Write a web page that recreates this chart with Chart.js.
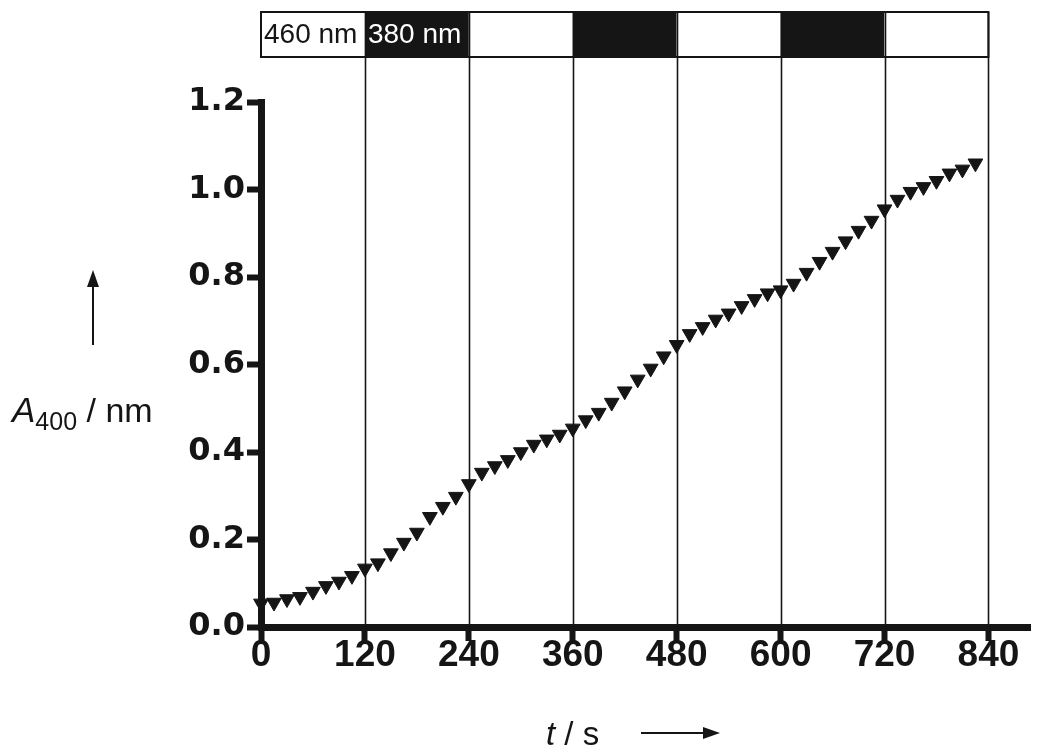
<!DOCTYPE html>
<html>
<head>
<meta charset="utf-8">
<script src="https://cdn.jsdelivr.net/npm/chart.js@4.4.1/dist/chart.umd.min.js"></script>
<style>
  body { margin: 0; background: #fff; }
</style>
</head>
<body>
<canvas id="myChart" width="1050" height="756"></canvas>
<script>
// time points (s)
let times = [0, 15, 30, 45, 60, 75, 90, 105, 120, 135, 150, 165, 180, 195, 210, 225,
  240, 255, 270, 285, 300, 315, 330, 345, 360, 375, 390, 405, 420, 435, 450, 465,
  480, 495, 510, 525, 540, 555, 570, 585, 600, 615, 630, 645, 660, 675, 690, 705,
  720, 735, 750, 765, 780, 795, 810, 825];

// absorbance at 400 nm
let a400 = [0.054, 0.056, 0.064, 0.069, 0.081, 0.094, 0.104, 0.117, 0.134, 0.146, 0.169, 0.193, 0.216, 0.252, 0.275, 0.298,
  0.327, 0.353, 0.368, 0.382, 0.400, 0.417, 0.429, 0.440, 0.454, 0.473, 0.490, 0.513, 0.539, 0.566, 0.591, 0.619,
  0.645, 0.670, 0.686, 0.703, 0.717, 0.734, 0.750, 0.763, 0.770, 0.785, 0.810, 0.835, 0.858, 0.882, 0.906, 0.929,
  0.955, 0.977, 0.995, 1.006, 1.020, 1.037, 1.046, 1.060];

// irradiation periods shown in the strip above the plot
let bandEdges = [0, 120, 240, 360, 480, 600, 720, 840];
let bandLabels = ["460 nm", "380 nm", "", "", "", "", ""];
let bandDark = [false, true, false, true, false, true, false];

let xTicks = [0, 120, 240, 360, 480, 600, 720, 840];
let yTicks = [0, 0.2, 0.4, 0.6, 0.8, 1.0, 1.2];

let ink = "#151515";

let overlay = {
  id: "overlay",
  beforeDatasetsDraw(chart) {
    let ctx = chart.ctx;
    let area = chart.chartArea;
    let x = chart.scales.x;
    let barTop = 12;
    let barH = 45;
    ctx.save();
    // strip
    for (let i = 0; i < bandEdges.length - 1; i++) {
      let x0 = x.getPixelForValue(bandEdges[i]);
      let x1 = x.getPixelForValue(bandEdges[i + 1]);
      ctx.fillStyle = bandDark[i] ? ink : "#fff";
      ctx.fillRect(x0, barTop, x1 - x0, barH);
      if (bandLabels[i]) {
        ctx.fillStyle = bandDark[i] ? "#fff" : ink;
        ctx.font = "28px 'Liberation Sans', Arial, sans-serif";
        ctx.textBaseline = "middle";
        ctx.textAlign = "left";
        ctx.fillText(bandLabels[i], x0 + 3, barTop + barH / 2 + 1);
      }
    }
    let xs = x.getPixelForValue(bandEdges[0]);
    let xe = x.getPixelForValue(bandEdges[bandEdges.length - 1]);
    ctx.strokeStyle = ink;
    ctx.lineWidth = 2;
    ctx.strokeRect(xs, barTop, xe - xs, barH);
    // dividers running down to the axis
    ctx.lineWidth = 1.6;
    for (let i = 1; i < bandEdges.length; i++) {
      let px = Math.round(x.getPixelForValue(bandEdges[i])) + 0.5;
      ctx.beginPath();
      ctx.moveTo(px, barTop);
      ctx.lineTo(px, area.bottom);
      ctx.stroke();
    }
    ctx.restore();
  },
  afterDraw(chart) {
    let ctx = chart.ctx;
    ctx.save();
    ctx.fillStyle = ink;
    ctx.strokeStyle = ink;
    ctx.textBaseline = "alphabetic";
    ctx.textAlign = "left";

    // y title: A400 / nm
    let bx = 12, by = 422;
    ctx.font = "italic 35px 'Liberation Sans', Arial, sans-serif";
    ctx.fillText("A", bx, by);
    bx += ctx.measureText("A").width;
    ctx.font = "25px 'Liberation Sans', Arial, sans-serif";
    ctx.fillText("400", bx, by + 8);
    bx += ctx.measureText("400").width;
    ctx.font = "34px 'Liberation Sans', Arial, sans-serif";
    ctx.fillText(" / nm", bx, by);

    // up arrow
    ctx.lineWidth = 2;
    ctx.beginPath();
    ctx.moveTo(93, 345);
    ctx.lineTo(93, 282);
    ctx.stroke();
    ctx.beginPath();
    ctx.moveTo(93, 270);
    ctx.lineTo(87, 287);
    ctx.lineTo(99, 287);
    ctx.closePath();
    ctx.fill();

    // x title: t / s
    let tx = 546, ty = 745;
    ctx.font = "italic 33px 'Liberation Sans', Arial, sans-serif";
    ctx.fillText("t", tx, ty);
    tx += ctx.measureText("t").width;
    ctx.font = "33px 'Liberation Sans', Arial, sans-serif";
    ctx.fillText(" / s", tx, ty);

    // right arrow
    ctx.beginPath();
    ctx.moveTo(641, 733);
    ctx.lineTo(705, 733);
    ctx.stroke();
    ctx.beginPath();
    ctx.moveTo(720, 733);
    ctx.lineTo(703, 727);
    ctx.lineTo(703, 739);
    ctx.closePath();
    ctx.fill();
    ctx.restore();
  },
};

let myChart = document.getElementById("myChart").getContext("2d");

let cfg = {
  type: "scatter",
  data: {
    datasets: [
      {
        label: "A400",
        data: times.map((t, i) => ({ x: t, y: a400[i] })),
        pointStyle: "triangle",
        rotation: 180,
        pointRadius: 8.5,
        pointBackgroundColor: ink,
        pointBorderColor: ink,
        pointBorderWidth: 1,
        showLine: false,
        clip: false,
      },
    ],
  },
  options: {
    responsive: false,
    animation: false,
    devicePixelRatio: 1,
    layout: { padding: { top: 102, right: 20, left: 0, bottom: 0 } },
    plugins: { legend: { display: false }, tooltip: { enabled: false } },
    scales: {
      x: {
        type: "linear",
        min: 0,
        max: 888,
        afterFit(s) { s.height = 129; },
        afterBuildTicks(s) { s.ticks = xTicks.map((v) => ({ value: v })); },
        ticks: {
          color: ink,
          font: { family: "'Liberation Sans', Arial, sans-serif", weight: "bold", size: 37 },
          padding: -7,
          maxRotation: 0,
          autoSkip: false,
        },
        grid: { drawOnChartArea: false, tickLength: 14, tickWidth: 6, tickColor: ink },
        border: { width: 7, color: ink },
      },
      y: {
        min: 0,
        max: 1.2,
        afterFit(s) { s.width = 261; },
        afterBuildTicks(s) { s.ticks = yTicks.map((v) => ({ value: v })); },
        ticks: {
          color: ink,
          font: { family: "'DejaVu Sans', sans-serif", weight: "bold", size: 32 },
          padding: 2,
          callback: (v) => v.toFixed(1),
        },
        grid: { drawOnChartArea: false, tickLength: 14, tickWidth: 6, tickColor: ink },
        border: { width: 7, color: ink },
      },
    },
  },
  plugins: [overlay],
};

let a400Chart = new Chart(myChart, cfg);
</script>
</body>
</html>
